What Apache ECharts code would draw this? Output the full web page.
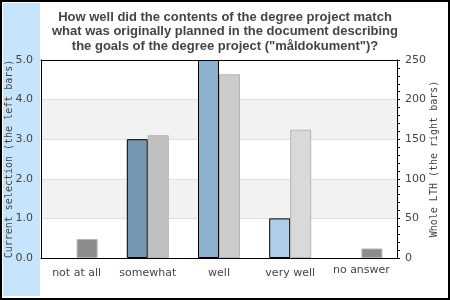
<!DOCTYPE html>
<html><head><meta charset="utf-8">
<script src="https://cdn.jsdelivr.net/npm/echarts@6/dist/echarts.min.js"></script>
<style>html,body{margin:0;padding:0;background:#fff}#c{width:450px;height:300px}</style>
</head><body><div id="c"></div>
<script>
const titleText = 'How well did the contents of the degree project match\nwhat was originally planned in the document describing\nthe goals of the degree project ("måldokument")?';
const categories = ['not at all', 'somewhat', 'well', 'very well', 'no answer'];
const currentSelection = [null, 3, 5, 1, null];
const wholeLTH = [24, 155, 232, 162, 12];
const leftColors = ['#7596b0', '#7596b0', '#8fb0cc', '#aecee9', '#7596b0'];
const rightColors = ['#8c8c8c', '#c0c0c0', '#cccccc', '#d9d9d9', '#8c8c8c'];
const leftTicks = [0, 1, 2, 3, 4, 5];
const rightTicks = [0, 50, 100, 150, 200, 250];

const chart = echarts.init(document.getElementById('c'), null, {renderer: 'canvas'});
const txt = '#444';
chart.setOption({
  animation: false,
  backgroundColor: '#fff',
  title: {
    text: titleText, left: 'center', top: 5,
    textStyle: {fontFamily: 'Liberation Sans', fontWeight: 'bold', fontSize: 13, color: txt, lineHeight: 14.5}
  },
  graphic: [
    {type: 'rect', z: -10, shape: {x: 3, y: 3, width: 37, height: 293}, style: {fill: '#c6e5fc'}},
    {type: 'rect', z: 100, shape: {x: 1, y: 1, width: 448, height: 298}, style: {fill: 'none', stroke: '#000', lineWidth: 2}}
  ],
  grid: {left: 41, right: 53, top: 60, bottom: 42, containLabel: false, outerBoundsMode: 'none'},
  xAxis: [{
    type: 'category',
    data: categories.map((c, i) => i === 4 ? {value: c, textStyle: {padding: [0, 0, 0, 0]}} : {value: c, textStyle: {padding: [3, 0, 0, 0]}}),
    axisLine: {lineStyle: {color: '#000', width: 1}},
    axisTick: {show: false},
    axisLabel: {color: txt, fontFamily: 'DejaVu Sans', fontSize: 11, margin: 7, interval: 0}
  }, {
    type: 'category', position: 'top', data: categories,
    axisLine: {onZero: false, lineStyle: {color: '#000', width: 1}},
    axisTick: {show: false}, axisLabel: {show: false}
  }],
  yAxis: [{
    type: 'value', min: 0, max: 5, interval: 1, position: 'left',
    name: 'Current selection (the left bars)', nameLocation: 'middle', nameGap: 27, nameMoveOverlap: false,
    nameTextStyle: {fontFamily: 'DejaVu Sans Mono', fontSize: 10, color: txt},
    axisLine: {show: true, lineStyle: {color: '#000'}},
    axisTick: {show: false},
    axisLabel: {color: txt, fontFamily: 'DejaVu Sans', fontSize: 11, margin: 8, formatter: v => leftTicks.includes(v) ? v.toFixed(1) : ''},
    splitLine: {show: true, lineStyle: {color: '#e0e0e0'}},
    splitArea: {show: true, areaStyle: {color: ['#ffffff', '#f2f2f2']}}
  }, {
    type: 'value', min: 0, max: 250, interval: 50, position: 'right',
    name: 'Whole LTH (the right bars)', nameLocation: 'middle', nameGap: 32, nameRotate: 90, nameMoveOverlap: false,
    nameTextStyle: {fontFamily: 'DejaVu Sans Mono', fontSize: 10, color: txt},
    axisLine: {show: true, lineStyle: {color: '#000'}},
    axisTick: {show: true, length: 3, lineStyle: {color: '#000'}},
    minorTick: {show: true, splitNumber: 5, length: 3, lineStyle: {color: '#000'}},
    axisLabel: {color: txt, fontFamily: 'DejaVu Sans', fontSize: 11, margin: 8, formatter: v => rightTicks.includes(v) ? String(v) : ''},
    splitLine: {show: false}
  }],
  series: [{
    type: 'bar', yAxisIndex: 0, barWidth: 21, barGap: '0%',
    data: currentSelection.map((v, i) => ({value: v, itemStyle: {color: leftColors[i]}})),
    itemStyle: {borderColor: '#000', borderWidth: 1}
  }, {
    type: 'bar', yAxisIndex: 1, barWidth: 21, barGap: '0%',
    data: wholeLTH.map((v, i) => ({value: v, itemStyle: {color: rightColors[i]}})),
    itemStyle: {borderColor: '#b4b4b4', borderWidth: 1}
  }]
});
</script></body></html>
